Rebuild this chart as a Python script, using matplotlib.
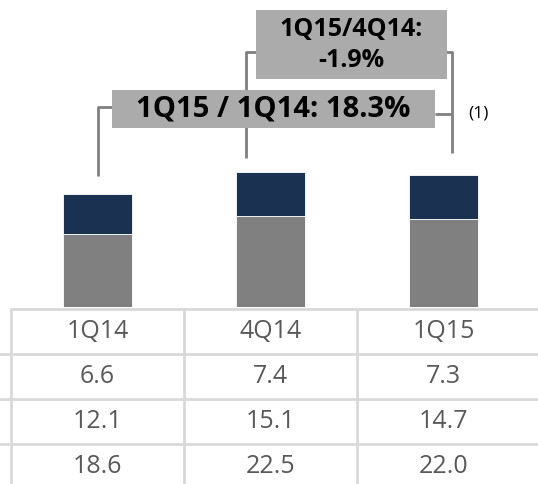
import matplotlib.pyplot as plt
from matplotlib.patches import Rectangle
import numpy as np

# Data
quarters = ['1Q14', '4Q14', '1Q15']
top_vals = [6.6, 7.4, 7.3]
bottom_vals = [12.1, 15.1, 14.7]
totals = [18.6, 22.5, 22.0]
yoy_label = '1Q15 / 1Q14: 18.3%'
qoq_label = '1Q15/4Q14:\n-1.9%'
note_label = '(1)'

navy = '#1b3152'
grey = '#808080'
box_grey = '#ababab'
line_grey = '#d9d9d9'
text_grey = '#595959'

plt.rcParams['font.family'] = ['Open Sans', 'DejaVu Sans']

W, H = 538, 484
fig = plt.figure(figsize=(W / 100, H / 100), dpi=100)

# pixel helpers for axes placement
x0, x1 = 11, 530
def fy(px):
    return 1 - px / H

# Bar axes
ax = fig.add_axes([x0 / W, fy(307), (x1 - x0) / W, 307 / H])
x = np.arange(len(quarters))
ax.bar(x, bottom_vals, width=0.4, color=grey, edgecolor='white', linewidth=0.6)
ax.bar(x, top_vals, width=0.4, bottom=bottom_vals, color=navy, edgecolor='white', linewidth=0.6)
ax.set_xlim(-0.5, 2.5)
ax.set_ylim(0, 51)
ax.axis('off')

# Annotation brackets
lk = dict(color=grey, lw=2, solid_capstyle='butt', zorder=1)
ax.plot([0, 0, 0.09], [totals[0] + 3.2, 33.2, 33.2], **lk)
ax.plot([0.86, 0.86, 0.93], [totals[1] + 2.3, 42.4, 42.4], **lk)
ax.plot([1.95, 2.05], [32.1, 32.1], **lk)
ax.plot([2.05, 2.05, 2.01], [totals[2] + 3.6, 42.4, 42.4], **lk)

# Growth boxes
ax.add_patch(Rectangle((0.084, 29.7), 1.867, 6.3, fc=box_grey, ec='none', zorder=2))
ax.add_patch(Rectangle((0.916, 37.9), 1.104, 11.4, fc=box_grey, ec='none', zorder=2))
ax.text(1.017, 32.9, yoy_label, ha='center', va='center', fontsize=21,
        fontweight='bold', color='black', zorder=3)
ax.text(1.468, 43.5, qoq_label, ha='center', va='center', fontsize=18,
        fontweight='bold', color='black', zorder=3, linespacing=1.3)
ax.text(2.2, 32.1, note_label, ha='center', va='center', fontsize=12.5,
        color='black', clip_on=False)

# Table axes
tb = fig.add_axes([x0 / W, fy(489), (x1 - x0) / W, (489 - 309) / H])
tb.set_xlim(-0.5, 2.5)
tb.set_ylim(4, 0)
tb.axis('off')
left_edge = -0.5 - 11 / 173
right_edge = 2.5 + 10 / 173
tl = dict(color=line_grey, lw=2, clip_on=False)
tb.plot([-0.5, right_edge], [0, 0], **tl)
for r in [1, 2, 3]:
    tb.plot([left_edge, right_edge], [r, r], **tl)
for c in [-0.5, 0.5, 1.5]:
    tb.plot([c, c], [0, 4], **tl)

rows = [quarters, top_vals, bottom_vals, totals]
for r, row in enumerate(rows):
    for c, v in enumerate(row):
        s = v if isinstance(v, str) else f'{v:.1f}'
        tb.text(c, r + 0.5, s, ha='center', va='center', fontsize=18,
                color=text_grey, clip_on=False)

fig.savefig('out.png', dpi=100)
